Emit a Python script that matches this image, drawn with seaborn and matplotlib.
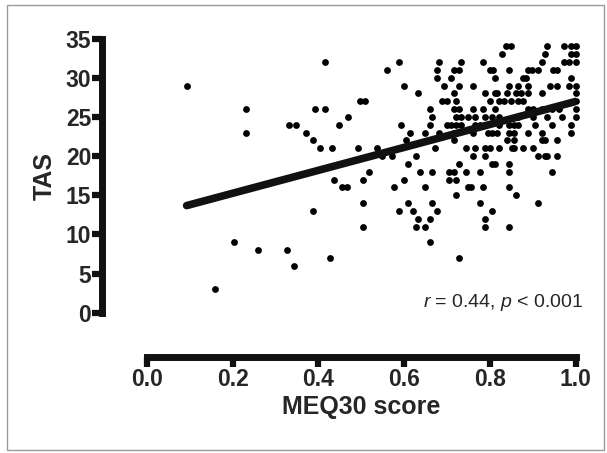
import matplotlib
matplotlib.use("Agg")
import matplotlib.pyplot as plt
import seaborn as sns
import pandas as pd
from matplotlib.patches import Rectangle

# MEQ30 score (x) and TAS (y)
meq30_score = [
    0.093, 0.160, 0.203, 0.231, 0.231, 0.259, 0.326, 0.342, 0.332, 0.348,
    0.370, 0.387, 0.387, 0.392, 0.404, 0.415, 0.415, 0.426, 0.432, 0.437,
    0.449, 0.454, 0.466, 0.470, 0.493, 0.498, 0.509, 0.505, 0.505, 0.505,
    0.519, 0.537, 0.548, 0.560, 0.571, 0.576, 0.588, 0.588, 0.593, 0.599,
    0.599, 0.604, 0.609, 0.609, 0.613,
    0.627, 0.637, 0.665, 0.705, 0.716, 0.744, 0.777, 0.727, 0.705, 0.721,
    0.649, 0.749, 0.755, 0.783, 0.721, 0.665, 0.777, 0.621, 0.677, 0.805,
    0.632, 0.660, 0.788, 0.627, 0.649, 0.788, 0.660, 0.727, 0.760, 0.788,
    0.805, 0.811, 0.844, 0.844, 0.944, 0.844, 0.861, 0.911, 0.844, 0.911,
    0.928, 0.933, 0.956,
    0.672, 0.744, 0.766, 0.788, 0.800, 0.821, 0.850, 0.856, 0.877, 0.900,
    0.716, 0.839, 0.855, 0.922, 0.928, 0.955,
    0.649, 0.682, 0.716, 0.761, 0.794, 0.805, 0.816, 0.844, 0.855, 0.889,
    0.922, 0.989,
    0.660, 0.699, 0.710, 0.721, 0.732, 0.766, 0.777, 0.788, 0.821, 0.844,
    0.855, 0.866, 0.905, 0.944, 0.989,
    0.665, 0.721, 0.732, 0.749, 0.766, 0.788, 0.805, 0.821, 0.866, 0.900,
    0.933, 0.967, 1.000,
    0.660, 0.716, 0.727, 0.760, 0.783, 0.811, 0.889, 0.900, 0.922, 0.944,
    0.961, 1.000,
    0.688, 0.699, 0.721, 0.800, 0.821, 0.833, 0.849, 0.866, 0.877, 1.000,
    0.632, 0.716, 0.788, 0.811, 0.816, 0.839, 0.861, 0.872, 0.889, 0.922,
    1.000,
    0.693, 0.727, 0.760, 0.844, 0.866, 0.889, 0.939, 0.955, 0.984, 1.000,
    0.677, 0.710, 0.811, 0.877, 0.883, 0.988,
    0.677, 0.716, 0.727, 0.800, 0.807, 0.844, 0.889, 0.897, 0.911, 0.947,
    0.955,
    0.682, 0.733, 0.783, 0.922, 0.972, 0.984, 1.000,
    0.827, 0.928, 0.988, 1.000,
    0.836, 0.849, 0.933, 0.972, 0.988, 1.000,
]
tas_score = [
    29, 3, 9, 26, 23, 8, 8, 6, 24, 24,
    23, 22, 13, 26, 21, 32, 26, 7, 21, 17,
    24, 16, 16, 25, 21, 27, 27, 17, 14, 11,
    18, 21, 20, 31, 20, 16, 32, 13, 24, 29,
    17, 22, 19, 14, 23,
    20, 18, 18, 18, 18, 18, 18, 19, 17, 17,
    16, 16, 16, 16, 15, 14, 14, 13, 13, 13,
    12, 12, 12, 11, 11, 11, 9, 7, 20, 20,
    19, 19, 19, 18, 18, 16, 15, 14, 11, 20,
    20, 20, 20,
    21, 21, 21, 21, 21, 21, 21, 21, 21, 21,
    22, 22, 22, 22, 22, 22,
    23, 23, 23, 23, 23, 23, 23, 23, 23, 23,
    23, 23,
    24, 24, 24, 24, 24, 24, 24, 24, 24, 24,
    24, 24, 24, 24, 24,
    25, 25, 25, 25, 25, 25, 25, 25, 25, 25,
    25, 25, 25,
    26, 26, 26, 26, 26, 26, 26, 26, 26, 26,
    26, 26,
    27, 27, 27, 27, 27, 27, 27, 27, 27, 27,
    28, 28, 28, 28, 28, 28, 28, 28, 28, 28,
    28,
    29, 29, 29, 29, 29, 29, 29, 29, 29, 29,
    30, 30, 30, 30, 30, 30,
    31, 31, 31, 31, 31, 31, 31, 31, 31, 31,
    31,
    32, 32, 32, 32, 32, 32, 32,
    33, 33, 33, 33,
    34, 34, 34, 34, 34, 34,
]
x_ticks = [0.0, 0.2, 0.4, 0.6, 0.8, 1.0]
y_ticks = [0, 5, 10, 15, 20, 25, 30, 35]
stats_text = r"$\it{r}$ = 0.44, $\it{p}$ < 0.001"

df = pd.DataFrame({"MEQ30": meq30_score, "TAS": tas_score})

sns.set_style("white")
plt.rcParams["font.family"] = ["Liberation Sans", "DejaVu Sans"]
plt.rcParams["mathtext.fontset"] = "custom"
plt.rcParams["mathtext.it"] = "Liberation Sans:italic"
plt.rcParams["mathtext.rm"] = "Liberation Sans"

fig = plt.figure(figsize=(6.07, 4.53), dpi=100)
ax = fig.add_axes([0.2417, 0.3097, 0.7071, 0.6051])

sns.regplot(data=df, x="MEQ30", y="TAS", ax=ax, ci=None,
            scatter_kws=dict(s=24, color="black", alpha=1, linewidths=0, clip_on=False),
            line_kws=dict(color="#111111", lw=5.5, solid_capstyle="round"))

ax.set_xlim(0, 1.0)
ax.set_ylim(0, 35)
ax.set_xticks(x_ticks)
ax.set_yticks(y_ticks)
ax.set_xticklabels([f"{t:.1f}" for t in x_ticks])

for side in ["top", "right"]:
    ax.spines[side].set_visible(False)
ax.spines["left"].set_position(("outward", 32))
ax.spines["bottom"].set_position(("outward", 32))
ax.spines["left"].set_bounds(0, 35)
ax.spines["bottom"].set_bounds(0, 1.0)
for side in ["left", "bottom"]:
    ax.spines[side].set_linewidth(5)
    ax.spines[side].set_color("#111111")
    ax.spines[side].set_capstyle("projecting")

ax.tick_params(axis="both", direction="out", length=7, width=4.5,
               color="#111111", labelsize=16.5, pad=1,
               bottom=True, left=True)
for lbl in ax.get_xticklabels() + ax.get_yticklabels():
    lbl.set_fontweight("bold")

ax.set_xlabel("MEQ30 score", fontsize=18, fontweight="bold", labelpad=3)
ax.set_ylabel("TAS", fontsize=18, fontweight="bold", labelpad=6)

ax.text(0.644, 1.3, stats_text, fontsize=14, ha="left", va="center")

fig.patches.append(Rectangle((0.011, 0.006), 0.984, 0.982, transform=fig.transFigure,
                             fill=False, edgecolor="#9a9a9a", lw=1))

plt.savefig("out.png", dpi=100)
